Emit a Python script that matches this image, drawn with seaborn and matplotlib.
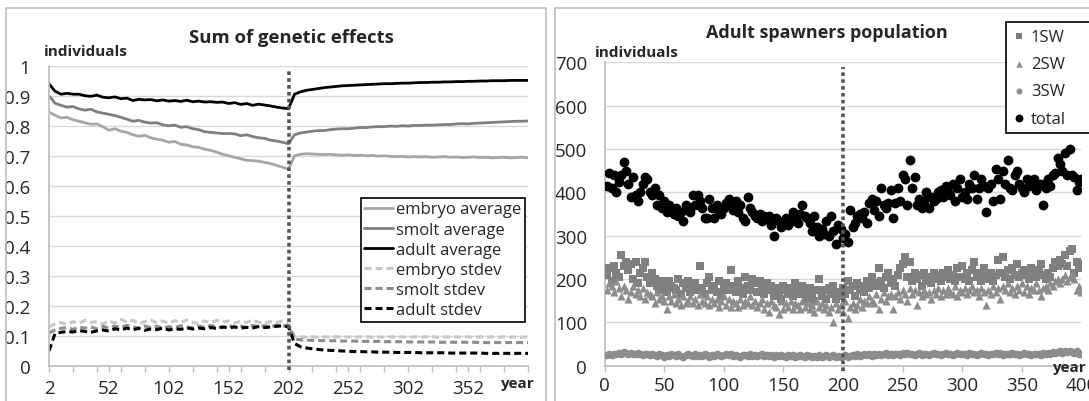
import matplotlib
matplotlib.use("Agg")
import matplotlib.pyplot as plt
from matplotlib.patches import Rectangle
import seaborn as sns
import pandas as pd

# ---- left panel: sum of genetic effects (every 5th year, 2..402) ----
years_left = list(range(2, 403, 5))

embryo_avg = [0.845, 0.835, 0.826, 0.828, 0.820, 0.815, 0.810, 0.805, 0.806, 0.797,
              0.785, 0.790, 0.782, 0.778, 0.770, 0.765, 0.768, 0.760, 0.755, 0.752,
              0.745, 0.748, 0.738, 0.736, 0.730, 0.728, 0.722, 0.718, 0.712, 0.705,
              0.700, 0.695, 0.690, 0.685, 0.684, 0.682, 0.678, 0.674, 0.668, 0.662,
              0.655,
              0.700, 0.705, 0.707, 0.706, 0.705, 0.704, 0.705, 0.703, 0.702, 0.703,
              0.701, 0.702, 0.700, 0.701, 0.699, 0.700, 0.698, 0.697, 0.698, 0.696,
              0.697, 0.696, 0.697, 0.695, 0.696, 0.697, 0.695, 0.696, 0.694, 0.695,
              0.696, 0.694, 0.695, 0.693, 0.694, 0.695, 0.693, 0.694, 0.695, 0.693]
smolt_avg = [0.900, 0.875, 0.868, 0.862, 0.864, 0.856, 0.852, 0.855, 0.846, 0.842,
             0.838, 0.834, 0.828, 0.822, 0.815, 0.818, 0.812, 0.809, 0.810, 0.803,
             0.800, 0.802, 0.795, 0.797, 0.790, 0.787, 0.780, 0.778, 0.776, 0.774,
             0.774, 0.773, 0.767, 0.770, 0.764, 0.760, 0.758, 0.752, 0.749, 0.745,
             0.740,
             0.770, 0.776, 0.779, 0.782, 0.784, 0.784, 0.787, 0.789, 0.790, 0.790,
             0.792, 0.794, 0.794, 0.796, 0.797, 0.797, 0.799, 0.798, 0.800, 0.799,
             0.801, 0.801, 0.802, 0.802, 0.803, 0.804, 0.804, 0.806, 0.807, 0.806,
             0.808, 0.809, 0.810, 0.811, 0.812, 0.813, 0.814, 0.815, 0.815, 0.816]
adult_avg = [0.940, 0.915, 0.905, 0.908, 0.905, 0.905, 0.900, 0.898, 0.902, 0.895,
             0.893, 0.896, 0.890, 0.892, 0.884, 0.888, 0.886, 0.887, 0.883, 0.886,
             0.882, 0.884, 0.881, 0.885, 0.880, 0.882, 0.879, 0.880, 0.878, 0.879,
             0.874, 0.877, 0.871, 0.874, 0.868, 0.872, 0.869, 0.866, 0.862, 0.859,
             0.857,
             0.905, 0.913, 0.918, 0.921, 0.924, 0.927, 0.929, 0.931, 0.933, 0.934,
             0.935, 0.936, 0.937, 0.938, 0.939, 0.940, 0.940, 0.941, 0.942, 0.942,
             0.943, 0.944, 0.944, 0.945, 0.945, 0.946, 0.946, 0.947, 0.947, 0.948,
             0.948, 0.949, 0.949, 0.950, 0.950, 0.950, 0.951, 0.951, 0.951, 0.951]
embryo_sd = [0.130, 0.140, 0.145, 0.138, 0.148, 0.142, 0.152, 0.145, 0.148, 0.140,
             0.150, 0.143, 0.155, 0.146, 0.152, 0.140, 0.148, 0.153, 0.144, 0.150,
             0.142, 0.151, 0.145, 0.153, 0.146, 0.140, 0.150, 0.144, 0.152, 0.147,
             0.150, 0.143, 0.149, 0.145, 0.152, 0.146, 0.142, 0.148, 0.145, 0.150,
             0.140,
             0.099, 0.097, 0.096, 0.097, 0.096, 0.097, 0.096, 0.097, 0.096, 0.097,
             0.096, 0.097, 0.097, 0.096, 0.097, 0.096, 0.097, 0.096, 0.097, 0.096,
             0.097, 0.096, 0.097, 0.097, 0.096, 0.097, 0.096, 0.097, 0.096, 0.097,
             0.096, 0.097, 0.096, 0.097, 0.096, 0.097, 0.096, 0.097, 0.096, 0.097]
smolt_sd = [0.110, 0.120, 0.125, 0.128, 0.122, 0.130, 0.126, 0.130, 0.124, 0.132,
            0.127, 0.133, 0.128, 0.135, 0.130, 0.127, 0.133, 0.128, 0.132, 0.126,
            0.131, 0.128, 0.134, 0.130, 0.127, 0.133, 0.129, 0.135, 0.130, 0.128,
            0.134, 0.130, 0.133, 0.128, 0.135, 0.131, 0.134, 0.130, 0.136, 0.133,
            0.135,
            0.090, 0.087, 0.086, 0.085, 0.085, 0.084, 0.084, 0.084, 0.083, 0.083,
            0.083, 0.082, 0.082, 0.082, 0.082, 0.081, 0.081, 0.081, 0.081, 0.080,
            0.080, 0.080, 0.080, 0.080, 0.079, 0.079, 0.079, 0.079, 0.079, 0.079,
            0.079, 0.078, 0.078, 0.078, 0.078, 0.078, 0.078, 0.078, 0.078, 0.078]
adult_sd = [0.050, 0.108, 0.112, 0.115, 0.113, 0.118, 0.115, 0.112, 0.117, 0.120,
            0.116, 0.124, 0.120, 0.126, 0.121, 0.125, 0.119, 0.123, 0.121, 0.126,
            0.120, 0.124, 0.122, 0.127, 0.123, 0.126, 0.124, 0.128, 0.125, 0.130,
            0.127, 0.130, 0.126, 0.129, 0.127, 0.131, 0.128, 0.130, 0.132, 0.134,
            0.130,
            0.075, 0.064, 0.060, 0.057, 0.055, 0.053, 0.052, 0.051, 0.050, 0.049,
            0.048, 0.048, 0.047, 0.047, 0.046, 0.046, 0.046, 0.045, 0.045, 0.045,
            0.045, 0.044, 0.044, 0.044, 0.044, 0.044, 0.043, 0.043, 0.043, 0.043,
            0.043, 0.043, 0.042, 0.042, 0.042, 0.042, 0.042, 0.042, 0.042, 0.042]

left_labels = ["embryo average", "smolt average", "adult average",
               "embryo stdev", "smolt stdev", "adult stdev"]
left_ticks = [2, 52, 102, 152, 202, 252, 302, 352]
change_year_left = 202

# ---- right panel: adult spawners (every 2nd year, 2..400) ----
years_right = list(range(2, 401, 2))

total = [415, 445, 410, 440, 400, 425, 440, 470, 450, 420,
         390, 435, 395, 380, 400, 420, 435, 430, 400, 395,
         410, 370, 395, 365, 380, 355, 370, 360, 350, 365,
         345, 355, 335, 370, 360, 355, 395, 370, 395, 380,
         365, 340, 340, 385, 365, 340, 370, 355, 350, 365,
         375, 385, 370, 360, 380, 355, 370, 340, 335, 390,
         365, 355, 345, 340, 350, 335, 345, 340, 345, 325,
         300, 340, 335, 320, 330, 340, 325, 335, 355, 345,
         330, 350, 370, 345, 340, 330, 310, 345, 320, 300,
         315, 305, 335, 300, 345, 310, 280, 325, 315, 295,
         305, 285, 360, 320, 330, 345, 350, 340, 355, 330,
         375, 385, 360, 380, 345, 410, 370, 365, 375, 405,
         340, 375, 410, 380, 440, 430, 370, 475, 410, 435,
         370, 385, 365, 380, 400, 365, 390, 380, 385, 400,
         405, 390, 415, 400, 395, 420, 380, 410, 430, 390,
         400, 385, 420, 410, 440, 385, 410, 430, 415, 355,
         410, 420, 380, 455, 430, 385, 450, 420, 475, 410,
         405, 440, 450, 420, 410, 400, 430, 415, 420, 430,
         405, 415, 420, 370, 410, 430, 415, 440, 445, 480,
         465, 450, 490, 440, 500, 440, 435, 405, 425, 430]
sw1 = [210, 225, 195, 230, 215, 205, 255, 230, 240, 220,
       235, 200, 240, 190, 215, 225, 240, 205, 190, 215,
       200, 185, 175, 195, 180, 170, 195, 185, 180, 175,
       200, 165, 190, 180, 195, 170, 185, 190, 175, 230,
       180, 165, 190, 205, 175, 185, 170, 195, 160, 180,
       190, 175, 220, 185, 170, 195, 180, 165, 205, 185,
       175, 200, 190, 170, 195, 180, 165, 190, 175, 185,
       160, 180, 170, 155, 185, 175, 165, 180, 160, 190,
       175, 165, 185, 170, 155, 180, 165, 150, 175, 200,
       160, 175, 155, 180, 165, 185, 155, 170, 160, 180,
       165, 195, 175, 185, 160, 190, 175, 185, 170, 195,
       180, 205, 190, 185, 225, 195, 180, 205, 215, 190,
       200, 185, 210, 225, 235, 250, 205, 240, 195, 215,
       200, 210, 185, 215, 195, 205, 190, 215, 200, 210,
       195, 215, 205, 220, 200, 210, 195, 225, 205, 230,
       200, 215, 195, 220, 240, 205, 215, 195, 225, 210,
       200, 215, 195, 210, 245, 215, 250, 205, 220, 200,
       225, 210, 235, 205, 215, 220, 210, 200, 225, 215,
       205, 220, 235, 210, 200, 215, 205, 225, 240, 230,
       245, 235, 255, 230, 265, 270, 215, 240, 225, 235]
sw2 = [175, 190, 185, 170, 195, 180, 160, 185, 175, 155,
       170, 185, 165, 175, 160, 180, 155, 170, 165, 160,
       145, 170, 155, 160, 150, 130, 160, 150, 165, 145,
       155, 140, 160, 145, 150, 160, 145, 155, 140, 165,
       150, 145, 160, 140, 155, 145, 155, 135, 150, 160,
       140, 155, 135, 150, 145, 135, 155, 140, 150, 145,
       160, 140, 150, 135, 145, 155, 130, 145, 125, 150,
       140, 135, 120, 150, 130, 145, 135, 150, 130, 145,
       140, 130, 150, 135, 145, 130, 140, 125, 150, 135,
       145, 130, 140, 125, 135, 100, 145, 130, 140, 125,
       150, 110, 135, 145, 130, 140, 155, 135, 150, 145,
       160, 150, 145, 165, 130, 155, 170, 150, 160, 165,
       130, 160, 170, 155, 175, 165, 150, 180, 165, 175,
       140, 170, 160, 175, 165, 170, 155, 175, 165, 180,
       160, 175, 165, 180, 170, 165, 185, 160, 175, 170,
       180, 165, 175, 185, 170, 175, 160, 180, 170, 140,
       175, 165, 185, 170, 180, 155, 185, 175, 190, 170,
       180, 165, 185, 175, 190, 170, 185, 165, 180, 175,
       190, 175, 160, 180, 185, 175, 190, 185, 195, 200,
       190, 200, 210, 195, 205, 210, 200, 175, 185, 170]
sw3 = [25, 27, 24, 28, 26, 30, 28, 32, 29, 27,
       30, 28, 26, 29, 27, 25, 28, 26, 24, 27,
       25, 22, 26, 24, 21, 25, 23, 27, 24, 22,
       26, 23, 21, 25, 27, 24, 22, 26, 23, 25,
       22, 26, 24, 21, 25, 23, 27, 24, 22, 25,
       27, 24, 26, 22, 25, 23, 21, 25, 24, 22,
       26, 23, 25, 22, 24, 27, 23, 25, 22, 24,
       21, 24, 22, 25, 23, 20, 24, 22, 25, 21,
       23, 25, 22, 20, 24, 22, 19, 23, 21, 24,
       20, 23, 25, 21, 22, 24, 20, 23, 21, 22,
       24, 21, 23, 25, 22, 26, 23, 25, 27, 24,
       26, 23, 28, 25, 27, 24, 26, 29, 25, 27,
       24, 28, 26, 25, 29, 27, 30, 26, 28, 25,
       27, 29, 25, 28, 26, 24, 27, 29, 26, 28,
       25, 27, 29, 26, 28, 25, 27, 30, 26, 28,
       27, 25, 29, 26, 28, 24, 27, 29, 26, 28,
       25, 28, 26, 30, 27, 29, 25, 28, 26, 27,
       29, 26, 28, 25, 27, 30, 26, 28, 25, 27,
       26, 28, 25, 29, 27, 30, 28, 32, 29, 31,
       34, 30, 33, 31, 35, 32, 30, 33, 28, 26]
right_labels = ["1SW", "2SW", "3SW", "total"]
change_year_right = 200

sns.set_theme(style="white")
plt.rcParams["font.family"] = ["Open Sans", "DejaVu Sans"]

fig = plt.figure(figsize=(10.89, 4.02), dpi=100)
ax1 = fig.add_axes([0.045, 0.0871, 0.4399, 0.747])
ax2 = fig.add_axes([0.5551, 0.0878, 0.438, 0.7547])

grid_c = "#d9d9d9"
spine_c = "#bfbfbf"

# panel frames
for x0 in (6 / 1089, 555 / 1089):
    fig.patches.append(Rectangle((x0, -0.05), 540 / 1089, 1.05 - 9 / 402,
                                 transform=fig.transFigure, fill=False,
                                 edgecolor=spine_c, lw=1.2))

# left lines
left_df = pd.DataFrame({"year": years_left,
                        "embryo average": embryo_avg, "smolt average": smolt_avg,
                        "adult average": adult_avg, "embryo stdev": embryo_sd,
                        "smolt stdev": smolt_sd, "adult stdev": adult_sd})
styles = {
    "embryo average": ("#a6a6a6", "-", 2.0),
    "smolt average": ("#7f7f7f", "-", 2.0),
    "adult average": ("#000000", "-", 2.0),
    "embryo stdev": ("#c8c8c8", (0, (2.3, 1.3)), 2.2),
    "smolt stdev": ("#8c8c8c", (0, (2.3, 1.3)), 2.2),
    "adult stdev": ("#000000", (0, (2.3, 1.3)), 2.2),
}
for name in left_labels:
    c, ls, lw = styles[name]
    sns.lineplot(data=left_df, x="year", y=name, ax=ax1, color=c,
                 linestyle=ls, linewidth=lw, label=name)
ax1.vlines(change_year_left, -0.015, 0.99, colors="#555555", linewidth=2.6,
           linestyles=(0, (1, 0.9)), clip_on=False, zorder=5)

ax1.set_xlim(2, 402)
ax1.set_ylim(0, 1)
ax1.set_yticks([i / 10 for i in range(11)])
ax1.set_yticklabels(["0", "0.1", "0.2", "0.3", "0.4", "0.5", "0.6", "0.7", "0.8", "0.9", "1"])
ax1.set_xticks(left_ticks)
ax1.set_xticks(list(range(2, 403, 20)), minor=True)
ax1.tick_params(axis="x", which="both", direction="out", length=4, color=spine_c,
                width=1, bottom=True, pad=5.5, labelsize=13.5)
ax1.tick_params(axis="y", length=0, pad=13.5, labelsize=13.5)
ax1.grid(axis="y", color=grid_c, linewidth=1)
ax1.set_xlabel("")
ax1.set_ylabel("")
for s in ["top", "right"]:
    ax1.spines[s].set_visible(False)
for s in ["left", "bottom"]:
    ax1.spines[s].set_color(spine_c)
h, l = ax1.get_legend_handles_labels()
if ax1.get_legend():
    ax1.get_legend().remove()
leg1 = ax1.legend(h, l, loc="upper right", bbox_to_anchor=(0.9937, 0.5594),
                  borderaxespad=0, fontsize=12, labelspacing=0.25, borderpad=0.2,
                  handlelength=1.75, handletextpad=0.2, fancybox=False, framealpha=1)
leg1.get_frame().set_edgecolor("black")
leg1.get_frame().set_linewidth(1.2)

# right scatter
right_df = pd.DataFrame({"year": years_right, "1SW": sw1, "2SW": sw2,
                         "3SW": sw3, "total": total})
markers = {"1SW": ("s", "#808080", 30), "2SW": ("^", "#8c8c8c", 34),
           "3SW": ("o", "#8c8c8c", 30), "total": ("o", "#000000", 50)}
for name in right_labels:
    m, c, s = markers[name]
    sns.scatterplot(data=right_df, x="year", y=name, ax=ax2, marker=m, color=c,
                    s=s, linewidth=0, label=name, zorder=3)
ax2.vlines(change_year_right, -12, 690, colors="#555555", linewidth=2.6,
           linestyles=(0, (1, 0.9)), clip_on=False, zorder=5)
ax2.set_xlim(0, 400)
ax2.set_ylim(0, 700)
ax2.set_yticks(range(0, 701, 100))
ax2.set_xticks(range(0, 401, 50))
ax2.tick_params(axis="x", direction="out", length=4, color=spine_c, width=1,
                bottom=True, pad=3.5, labelsize=13.5)
ax2.tick_params(axis="y", length=0, pad=12.5, labelsize=13.5)
ax2.grid(axis="y", color=grid_c, linewidth=1)
ax2.set_xlabel("")
ax2.set_ylabel("")
for s in ["top", "right"]:
    ax2.spines[s].set_visible(False)
for s in ["left", "bottom"]:
    ax2.spines[s].set_color(spine_c)
h2, l2 = ax2.get_legend_handles_labels()
if ax2.get_legend():
    ax2.get_legend().remove()
leg2 = fig.legend(h2, l2, loc="upper left", bbox_to_anchor=(0.9238, 0.649, 0.12, 0.2937),
                  mode="expand", borderaxespad=0, fontsize=12, labelspacing=0.68,
                  borderpad=0.4, handlelength=0.8, handletextpad=0.3, markerscale=0.8,
                  fancybox=False, framealpha=1)
leg2.get_frame().set_edgecolor("black")
leg2.get_frame().set_linewidth(1.2)

# titles and axis captions
fig.text(0.2672, 0.9055, "Sum of genetic effects", ha="center", va="center",
         fontsize=13.3, fontweight="bold")
fig.text(0.7594, 0.918, "Adult spawners population", ha="center", va="center",
         fontsize=13, fontweight="bold")
fig.text(0.0404, 0.8706, "individuals", ha="left", va="center", fontsize=11,
         fontweight="bold")
fig.text(0.5464, 0.868, "individuals", ha="left", va="center", fontsize=11,
         fontweight="bold")
fig.text(0.4747, 0.0448, "year", ha="center", va="center", fontsize=11, fontweight="bold")
fig.text(0.9815, 0.0835, "year", ha="center", va="center", fontsize=11, fontweight="bold")

fig.savefig("out.png", dpi=100)
